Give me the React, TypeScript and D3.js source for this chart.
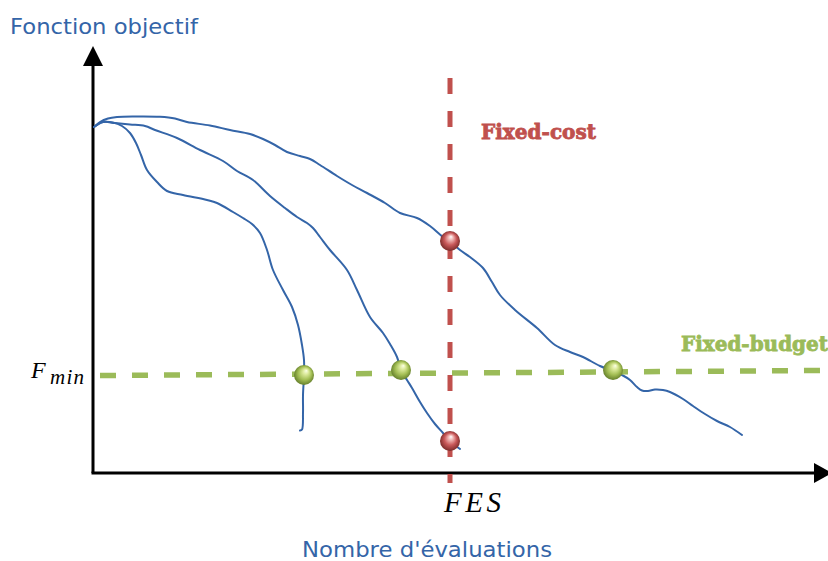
import React from "react";
import * as d3 from "d3";

// Data units: x = number of evaluations (arbitrary units), y = objective value (arbitrary units)
const curveSlow: [number, number][] = [
  [1, 346], [7, 351], [15, 354.5], [24, 356], [42, 356.5], [67, 356.2], [82, 354.5], [94, 351],
  [117, 347.5], [137, 343], [157, 339], [170, 334], [182, 328], [194, 321], [207, 317], [217, 314],
  [227, 308], [244, 297], [259, 288], [274, 280], [292, 270], [307, 260], [324, 255], [337, 247],
  [350, 236], [357, 232], [367, 223], [377, 216], [390, 205], [399, 191], [407, 178], [422, 163],
  [444, 145], [462, 128], [477, 121], [490, 116], [507, 107], [520, 102], [529, 98], [537, 93],
  [544, 86], [549, 82.5], [555, 82], [562, 83.5], [570, 83], [577, 81], [590, 74], [600, 67],
  [612, 59], [624, 52], [637, 46], [649, 38],
];

const curveMedium: [number, number][] = [
  [1, 346], [10, 351], [22, 350], [37, 348.5], [52, 347], [62, 343], [84, 335], [107, 323],
  [130, 312], [144, 302], [160, 293], [177, 277], [192, 265], [204, 256], [214, 250], [220, 245],
  [227, 236], [237, 223], [254, 203], [264, 183], [277, 156], [290, 140], [297, 129], [304, 116],
  [308, 103], [314, 93], [319, 85], [327, 71], [334, 60], [342, 49], [350, 40], [357, 32], [367, 24],
];

const curveFast: [number, number][] = [
  [1, 346], [10, 351], [20, 350.5], [29, 347], [37, 340], [43, 330], [48, 318], [54, 303],
  [64, 291], [74, 282], [90, 278], [114, 273], [124, 270], [140, 261], [150, 255], [159, 249],
  [167, 240], [174, 223], [180, 203], [190, 183], [199, 166], [205, 148], [209, 128], [211, 113],
  [211, 98], [210, 78], [210, 60], [209, 43.5], [207, 42.5],
];

const budgetPoints: [number, number][] = [[211, 98], [308, 103], [520, 103]];
const costPoints: [number, number][] = [[357, 232], [357, 32]];

const fminLine: [number, number][] = [[7, 97.5], [727, 102.5]];
const fesLine: [number, number][] = [[357, 395], [357, -10]];

const xDomain: [number, number] = [0, 735];
const yDomain: [number, number] = [0, 427];

const labels = {
  yTitle: "Fonction objectif",
  xTitle: "Nombre d'évaluations",
  fixedCost: "Fixed-cost",
  fixedBudget: "Fixed-budget",
  fes: "FES",
};

const W = 828;
const H = 561;

export default function App() {
  const x = d3.scaleLinear().domain(xDomain).range([93, 828]);
  const y = d3.scaleLinear().domain(yDomain).range([473, 46]);

  const line = d3
    .line<[number, number]>()
    .x((d) => x(d[0]))
    .y((d) => y(d[1]))
    .curve(d3.curveCatmullRom.alpha(0.5));
  const straight = d3
    .line<[number, number]>()
    .x((d) => x(d[0]))
    .y((d) => y(d[1]));

  const blue = "#3465a8";
  const red = "#c0504d";
  const green = "#9bbb59";

  const x0 = x(xDomain[0]);
  const y0 = y(yDomain[0]);

  return (
    <svg
      width={W}
      height={H}
      style={{ position: "absolute", left: 0, top: 0, background: "#fff" }}
    >
      <defs>
        <radialGradient id="gRed" cx="50%" cy="50%" r="55%" fx="55%" fy="28%">
          <stop offset="0%" stopColor="#ffffff" />
          <stop offset="22%" stopColor="#f0b8b6" />
          <stop offset="55%" stopColor="#c9595a" />
          <stop offset="100%" stopColor="#6e2422" />
        </radialGradient>
        <radialGradient id="gGreen" cx="50%" cy="50%" r="55%" fx="62%" fy="28%">
          <stop offset="0%" stopColor="#fbffe6" />
          <stop offset="25%" stopColor="#dcea9c" />
          <stop offset="60%" stopColor="#a4bf55" />
          <stop offset="100%" stopColor="#5a7424" />
        </radialGradient>
      </defs>

      {/* titles */}
      <text x={10} y={34} fontFamily="DejaVu Sans" fontSize={22} fill={blue}
        textLength={188} lengthAdjust="spacingAndGlyphs">
        {labels.yTitle}
      </text>
      <text x={302} y={557} fontFamily="DejaVu Sans" fontSize={22} fill={blue}
        textLength={250} lengthAdjust="spacingAndGlyphs">
        {labels.xTitle}
      </text>

      {/* axes */}
      <line x1={x0} y1={y0} x2={x0} y2={66} stroke="#000" strokeWidth={3} />
      <polygon points={`${x0},46 ${x0 - 10},66 ${x0 + 10},66`} fill="#000" />
      <line x1={x0 - 1.5} y1={y0} x2={814} y2={y0} stroke="#000" strokeWidth={3} />
      <polygon points={`814,463 814,483 832,473`} fill="#000" />

      {/* curves */}
      {[curveSlow, curveMedium, curveFast].map((c, i) => (
        <path key={i} d={line(c) || ""} fill="none" stroke={blue} strokeWidth={2} strokeLinecap="round" />
      ))}

      {/* dashed reference lines */}
      <path d={straight(fminLine) || ""} stroke={green} strokeWidth={5.5} strokeDasharray="16 16" fill="none" />
      <path d={straight(fesLine) || ""} stroke={red} strokeWidth={5} strokeDasharray="16 17" fill="none" />

      {/* spheres */}
      {budgetPoints.map((p, i) => (
        <circle key={"b" + i} cx={x(p[0])} cy={y(p[1])} r={10} fill="url(#gGreen)" />
      ))}
      {costPoints.map((p, i) => (
        <circle key={"c" + i} cx={x(p[0])} cy={y(p[1])} r={10} fill="url(#gRed)" />
      ))}

      {/* annotation labels */}
      <text x={481} y={139} fontFamily="DejaVu Serif" fontWeight="bold" fontSize={20} fill={red}
        stroke={red} strokeWidth={0.8} textLength={115} lengthAdjust="spacingAndGlyphs">
        {labels.fixedCost}
      </text>
      <text x={681} y={351} fontFamily="DejaVu Serif" fontWeight="bold" fontSize={20} fill={green}
        stroke={green} strokeWidth={0.8} textLength={147} lengthAdjust="spacingAndGlyphs">
        {labels.fixedBudget}
      </text>

      {/* math labels */}
      <text x={31} y={378} fontFamily="Liberation Serif" fontStyle="italic" fontSize={24} fill="#000">
        F
      </text>
      <text x={50} y={383.5} fontFamily="Liberation Serif" fontStyle="italic" fontSize={21} fill="#000"
        textLength={34} lengthAdjust="spacing">
        min
      </text>
      <text x={444} y={512} fontFamily="Liberation Serif" fontStyle="italic" fontSize={29} fill="#000"
        textLength={57} lengthAdjust="spacing">
        {labels.fes}
      </text>
    </svg>
  );
}
